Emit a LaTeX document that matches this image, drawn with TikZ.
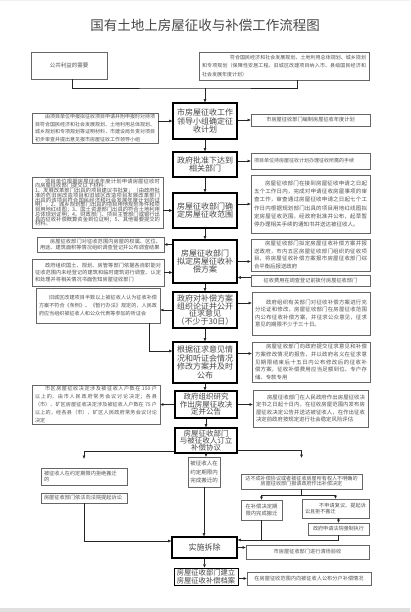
\documentclass[tikz,border=0pt]{standalone}
\usepackage{fontspec}
\setmainfont{Noto Sans CJK SC}
\usetikzlibrary{arrows.meta}
\XeTeXlinebreaklocale "zh"
\XeTeXlinebreakskip=0pt plus 1pt
\newcommand\myfs[2]{\fontsize{#1}{#2}\selectfont\lineskiplimit=-10pt\lineskip=0pt}
\tikzset{
  ttl/.style={font={\myfs{13.5}{14}}, text=black!72, inner sep=0pt},
  cbox/.style={draw=black, line width=1.3pt, align=center, inner sep=1pt, text=black!72, font={\myfs{8}{8.4}}},
  sbox/.style={draw=black!60, line width=0.55pt, inner xsep=3pt, inner ysep=1pt, text=black!68, align=justify},
  conn/.style={draw=black!85, line width=0.5pt, -{Triangle[length=3.2pt,width=2.6pt]}},
  plain/.style={draw=black!85, line width=0.5pt}
}
\begin{document}
\begin{tikzpicture}[x=1pt,y=-1pt]
\useasboundingbox (0,0) rectangle (410,612);
\fill[white] (0,0) rectangle (410,612);
\fill[black!12] (0,608) rectangle (410,612);
\fill[black!6] (0,0) rectangle (410,1.5);

\node[ttl] (title) at (205,25) {国有土地上房屋征收与补偿工作流程图};

% centre column
\node[cbox, minimum width=64pt, minimum height=36pt] (c1) at (205,121) {市房屋征收工作\\领导小组确定征\\收计划};
\node[cbox, minimum width=64pt, minimum height=25pt] (c2) at (205,164.5) {政府批准下达到\\相关部门};
\node[cbox, minimum width=64pt, minimum height=35pt] (c3) at (205,210.5) {房屋征收部门确\\定房屋征收范围};
\node[cbox, minimum width=64pt, minimum height=43pt] (c4) at (205,261.5) {房屋征收部门\\拟定房屋征收补\\偿方案};
\node[cbox, minimum width=64pt, minimum height=36pt, font={\myfs{8}{7.8}}] (c5) at (205,310) {政府对补偿方案\\组织论证并公开\\征求意见\\（不少于30日）};
\node[cbox, minimum width=64pt, minimum height=41pt] (c6) at (205,362.5) {根据征求意见情\\况和听证会情况\\修改方案并及时\\公布};
\node[cbox, minimum width=62pt, minimum height=27pt, font={\myfs{7.5}{7.5}}] (c7) at (206,404.5) {政府组织研究\\作出房屋征收决\\定并公告};
\node[cbox, minimum width=62pt, minimum height=25pt, font={\myfs{7.5}{7.2}}] (c8) at (206,440.5) {房屋征收部门\\与被征收人订立\\补偿协议};
\node[cbox, minimum width=65pt, minimum height=21pt] (c9) at (204.5,547.5) {实施拆除};
\node[cbox, line width=0.9pt, inner sep=0.5pt, minimum width=64pt, minimum height=17pt, font={\myfs{7.3}{7.6}}] (c10) at (206,576.5) {房屋征收部门建立\\房屋征收补偿档案};

% top boxes
\node[sbox, minimum width=76pt, minimum height=27pt, align=center, font={\myfs{5.5}{6}}] (T1) at (69,65.5) {公共利益的需要};
\node[sbox, minimum width=170pt, minimum height=28pt, text width=164pt, font={\myfs{5}{8.2}}] (T2) at (284,66) {\hspace*{28pt}符合国民经济和社会发展规划、土地利用总体规划、城乡规划和专项规划（保障性安居工程、旧城区改建项目纳入市、县级国民经济和社会发展年度计划）};

% left boxes
\node[sbox, minimum width=126pt, minimum height=30pt, text width=120pt, font={\myfs{5}{7.5}}] (L1) at (95,128) {\hspace*{10pt}由项目单位申报拟征收项目申请并附申报时对持项目符合国民经济和社会发展规划、土地利用总体规划、城乡规划和专项规划等证明材料，市建设局负责对项目初步审查并提出意见报市房屋征收工作领导小组};
\node[sbox, minimum width=131pt, minimum height=51pt, text width=125pt, font={\myfs{5.3}{4.75}}] (L2) at (97.5,202.5) {\hspace*{10pt}项目单位根据房屋征收年度计划申请房屋征收时向房屋征收部门提交以下材料：\\1、发展改革部门出具的项目建议书批复；（由政府批准的危旧房改造项目和旧城区改造项目发展改革部门出具的该项目符合国民经济和社会发展年度计划的证明）；2、城乡规划部门出具的项目用地规划条件和项目用地红线图；3、国土资源部门出具的符合土地利用总体规划证明；4、财政部门、项目主管部门或银行出具的征收补偿概算资金到位证明；5、其他需要提交的材料。};
\node[sbox, minimum width=127pt, minimum height=15pt, text width=121pt, font={\myfs{5.2}{6}}] (L3) at (100.5,244.5) {\hspace*{10pt}房屋征收部门对征收范围内房屋的权属、区位、用途、建筑面积等情况组织调查登记并公布调查结果};
\node[sbox, minimum width=132pt, minimum height=27pt, text width=126pt, font={\myfs{5.2}{6.8}}] (L4) at (98,272.5) {\hspace*{10pt}政府组织国土、规划、房管等部门依据各自职能对征收范围内未经登记的建筑和临时建筑进行调查、认定和处理并将相关情况书面告知房屋征收部门};
\node[sbox, minimum width=124pt, minimum height=35pt, text width=118pt, font={\myfs{5.1}{7.8}}] (L5) at (98,305.5) {\hspace*{10pt}旧城区改建项目半数以上被征收人认为征收补偿方案不符合《条例》、《暂行办法》规定的，人民政府应当组织被征收人和公众代表等参加的听证会};
\node[sbox, minimum width=128pt, minimum height=36pt, text width=122pt, font={\myfs{5.1}{8}}] (L6) at (96,405) {\hspace*{10pt}市区房屋征收决定涉及被征收人户数在 150 户以上的，由市人民政府常务会议讨论决定；各县（市）、矿区房屋征收决定涉及被征收人户数在 75 户以上的，经各县（市）、矿区人民政府常务会议讨论决定};
\node[sbox, minimum width=86pt, minimum height=17pt, text width=80pt, align=left, font={\myfs{5.2}{5.6}}] (L7) at (84,476.5) {被征收人在约定期限内拒绝搬迁\\的};
\node[sbox, minimum width=86pt, minimum height=10pt, text width=80pt, align=left, font={\myfs{5.2}{6}}] (L8) at (84,498) {房屋征收部门依法向法院提起诉讼};

% right boxes
\node[sbox, minimum width=119pt, minimum height=12pt, align=center, font={\myfs{5.2}{6}}] (R1) at (310.5,120) {市房屋征收部门编制房屋征收年度计划};
\node[sbox, minimum width=119pt, minimum height=16pt, text width=113pt, align=left, font={\myfs{5}{6}}] (R2) at (310.5,161) {项目单位持房屋征收计划办理征收所需的手续};
\node[sbox, minimum width=119pt, minimum height=58pt, text width=113pt, font={\myfs{5.5}{8.2}}] (R3) at (310.5,204) {\hspace*{11pt}房屋征收部门在接到房屋征收申请之日起五个工作日内，完成对申请征收房屋事项的审查工作，审查通过房屋征收申请之日起七个工作日内根据规划部门出具的项目用地红线图拟定房屋征收范围，经政府批准并公布，起草暂停办理相关手续的通知书并送达被征收人。};
\node[sbox, minimum width=119pt, minimum height=32pt, text width=113pt, font={\myfs{5.4}{7.6}}] (R4) at (310.5,255) {\hspace*{11pt}房屋征收部门拟定房屋征收补偿方案并报送政府，市内五区房屋征收部门组织的征收项目，将房屋征收补偿方案报市房屋征收部门综合平衡后报送政府};
\node[sbox, minimum width=119pt, minimum height=11pt, align=center, font={\myfs{5.2}{6}}] (R5) at (310.5,280.5) {征收费用在调查登记前拨付房屋征收部门};
\node[sbox, minimum width=118pt, minimum height=43pt, text width=112pt, font={\myfs{5.4}{7.6}}] (R6) at (311,313.5) {\hspace*{11pt}政府组织有关部门对征收补偿方案进行充分论证和修改，房屋征收部门在房屋征收范围内公布征收补偿方案，并征求公众意见，征求意见的期限不少于三十日。};
\node[sbox, minimum width=118pt, minimum height=40pt, text width=112pt, font={\myfs{5.4}{7.6}}] (R7) at (311,362) {\hspace*{11pt}房屋征收部门向政府提交征求意见和补偿方案修改情况的报告，并以政府名义在征求意见期限结束后十五日内公布修改后的征收补偿方案，征收补偿费用应当足额到位、专户存储、专款专用};
\node[sbox, minimum width=115pt, minimum height=37pt, text width=109pt, font={\myfs{5.4}{7.6}}] (R8) at (310.5,408.5) {\hspace*{11pt}房屋征收部门在人民政府作出房屋征收决定书之日起十日内，在征收房屋范围内发布房屋征收决定公告并送达被征收人，在作出征收决定前政府按规定进行社会稳定风险评估};

% lower part
\node[sbox, minimum width=32pt, minimum height=30pt, inner xsep=1pt, align=left, font={\myfs{5.5}{8.5}}] (S) at (204,472) {被征收人在\\约定期限内\\完成搬迁的};
\node[sbox, minimum width=121pt, minimum height=15pt, align=center, font={\myfs{5.1}{5}}] (D) at (301.5,481.5) {达不成补偿协议或者被征收房屋所有权人不明确的\\房屋征收部门报请政府作出补偿决定};
\node[sbox, minimum width=41pt, minimum height=20pt, inner xsep=1pt, align=left, font={\myfs{5.3}{6.8}}] (B1) at (261.5,510) {在补偿决定期\\限内完成搬迁};
\node[sbox, minimum width=67pt, minimum height=19pt, text width=61pt, font={\myfs{5.1}{6.8}}] (B2) at (335.5,508.5) {\hspace*{14pt}不申请复议、提起诉讼且拒不搬迁};
\node[sbox, minimum width=61pt, minimum height=12pt, align=center, font={\myfs{5.1}{6}}] (B3) at (338.5,529) {政府申请法院强制执行};
\node[sbox, minimum width=123pt, minimum height=14pt, align=center, font={\myfs{5.2}{6}}] (R9) at (307.5,552) {市房屋征收部门进行清场验收};
\node[sbox, minimum width=124pt, minimum height=13pt, align=center, font={\myfs{5.2}{6}}] (R10) at (309,578.5) {在房屋征收范围内向被征收人公布分户补偿情况};

% connectors
\coordinate (tj) at (205,88);
\draw[plain] ([xshift=3pt]T1.south) |- (tj) -| ([xshift=13pt]T2.south);
\draw[conn] (tj) -- (c1.north);
\foreach \a/\b in {c1/c2,c2/c3,c3/c4,c4/c5,c5/c6,c6/c7,c7/c8,c8/S,S/c9,c9/c10}
  \draw[conn] (\a.south) -- (\a.south |- \b.north);
\draw[conn] (L1.east |- c1.west) -- (c1.west);
\draw[conn] (c1.east |- R1.west) -- (R1.west);
\draw[conn] (c2.east |- R2.west) -- (R2.west);
\draw[conn] (L2.east |- c3.west) -- (c3.west);
\draw[conn] (c3.east |- R3.west) -- (R3.west);
\draw[conn] (c4.west |- L3.east) -- (L3.east);
\draw[conn] (L4.east) -- (L4.east -| c4.west);
\draw[conn] (c4.east) -- (c4.east -| R4.west);
\draw[conn] ([yshift=3pt]R5.west) -- ([yshift=3pt]R5.west -| c4.east);
\draw[conn] (c5.west) -- (c5.west -| L5.east);
\draw[conn] ([xshift=51pt]L5.south) |- ([yshift=11.5pt]c6.west);
\draw[conn] ([yshift=7pt]c5.east) -- ([yshift=7pt]c5.east -| R6.west);
\draw[conn] ([yshift=9pt]c6.east) -- ([yshift=9pt]c6.east -| R7.west);
\draw[conn] (c7.west) -- (c7.west -| L6.east);
\draw[conn] (c7.east) -- (c7.east -| R8.west);
\draw[conn, shorten >=9pt] ([yshift=-10.5pt]c8.west) -| (L7.north);
\draw[conn, shorten >=16pt] ([yshift=-9.5pt]c8.east) -| (D.north);
\draw[conn] (L8.south) |- ([yshift=6.5pt]c9.west);
\coordinate (dj) at ([yshift=-6pt]D.south);
\draw[plain] (D.south) -- (dj);
\draw[conn] (dj) -| (B1.north);
\draw[conn] (dj) -| (B2.north);
\draw[conn] (B3.north |- B2.south) -- (B3.north);
\coordinate (bj) at ([yshift=7.5pt]c9.east);
\draw[conn] (B3.south) |- (bj);
\draw[plain] (B1.south) -- (B1.south |- bj);
\draw[conn] (c9.east) -- (c9.east -| R9.west);
\draw[conn] (c10.east |- R10.west) -- (R10.west);
\end{tikzpicture}
\end{document}
